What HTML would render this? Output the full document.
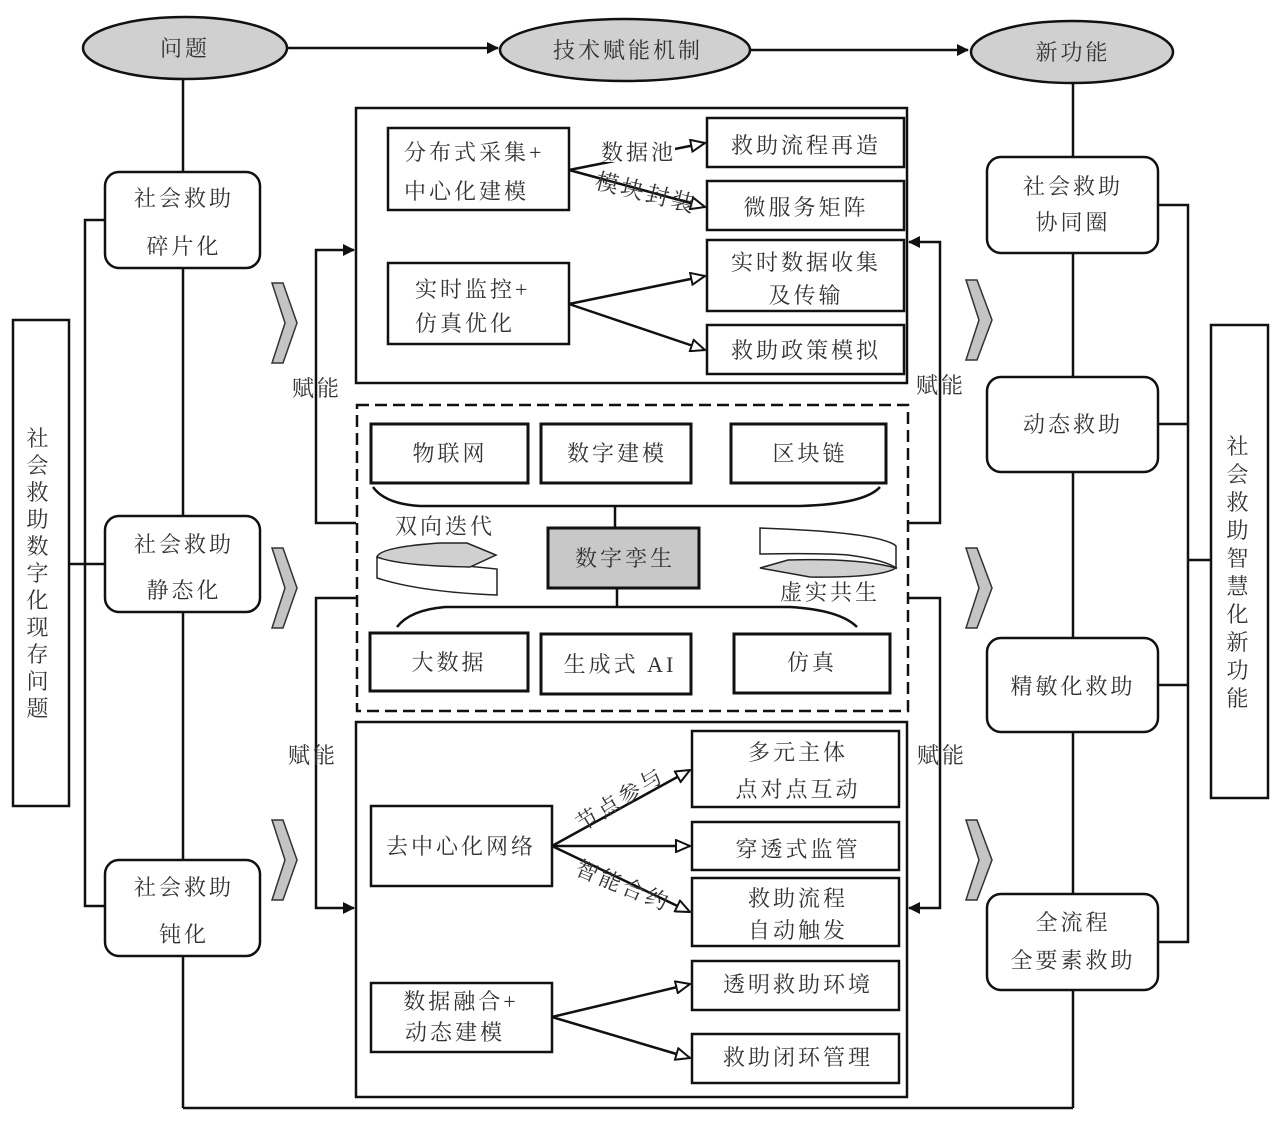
<!DOCTYPE html>
<html><head><meta charset="utf-8"><style>
html,body{margin:0;padding:0;background:#fff;}
svg text{font-family:"Liberation Serif","Noto Serif CJK SC","Noto Sans CJK SC",serif;fill:#333;font-size:22px;letter-spacing:3px;}
</style></head><body>
<svg width="1275" height="1116" viewBox="0 0 1275 1116" xmlns="http://www.w3.org/2000/svg">
<defs>
<marker id="fa" markerWidth="12" markerHeight="12" refX="11" refY="6" orient="auto" markerUnits="userSpaceOnUse"><path d="M0,0 L12,6 L0,12 z" fill="#111"/></marker>
<marker id="oa" markerWidth="16" markerHeight="14" refX="15" refY="7" orient="auto" markerUnits="userSpaceOnUse"><path d="M1,1 L15,7 L1,13 z" fill="#fff" stroke="#111" stroke-width="2"/></marker>
</defs>
<g stroke="#111" stroke-width="2.5" fill="none">
<line x1="183" y1="78" x2="183" y2="1108"/>
<line x1="183" y1="1108" x2="1073" y2="1108"/>
<line x1="1073" y1="80" x2="1073" y2="1108"/>
<line x1="287" y1="48" x2="498" y2="48" marker-end="url(#fa)"/>
<line x1="750" y1="50" x2="968" y2="50" marker-end="url(#fa)"/>
<polyline points="105,220 85,220 85,906 105,906"/>
<line x1="69" y1="564" x2="105" y2="564"/>
<polyline points="1158,205 1188,205 1188,942 1158,942"/>
<line x1="1158" y1="424" x2="1188" y2="424"/>
<line x1="1158" y1="685" x2="1188" y2="685"/>
<line x1="1188" y1="560" x2="1211" y2="560"/>
<polyline points="356,523 316,523 316,250 354,250" marker-end="url(#fa)"/>
<polyline points="356,598 316,598 316,908 354,908" marker-end="url(#fa)"/>
<polyline points="908,523 940,523 940,242 909,242" marker-end="url(#fa)"/>
<polyline points="908,598 940,598 940,908 909,908" marker-end="url(#fa)"/>
</g>
<g stroke="#111" stroke-width="2.5" fill="#d0d0d0">
<ellipse cx="185" cy="48" rx="102" ry="31"/>
<ellipse cx="625" cy="50" rx="125" ry="31"/>
<ellipse cx="1072" cy="52" rx="101" ry="31"/>
</g>
<text x="185" y="56" text-anchor="middle">问题</text>
<text x="628" y="58" text-anchor="middle">技术赋能机制</text>
<text x="1073" y="60" text-anchor="middle">新功能</text>
<g stroke="#111" stroke-width="2.5" fill="#fff">
<rect x="105" y="172" width="155" height="96" rx="14"/>
<rect x="105" y="516" width="155" height="96" rx="14"/>
<rect x="105" y="860" width="155" height="96" rx="14"/>
<rect x="13" y="320" width="56" height="486"/>
<rect x="987" y="157" width="171" height="96" rx="14"/>
<rect x="987" y="377" width="171" height="95" rx="14"/>
<rect x="987" y="638" width="171" height="94" rx="14"/>
<rect x="987" y="894" width="171" height="96" rx="14"/>
<rect x="1211" y="325" width="57" height="473"/>
</g>
<g text-anchor="middle">
<text x="184" y="206">社会救助</text><text x="184" y="254">碎片化</text>
<text x="184" y="552">社会救助</text><text x="184" y="598">静态化</text>
<text x="184" y="895">社会救助</text><text x="184" y="942">钝化</text>
<text x="1073" y="194">社会救助</text><text x="1073" y="230">协同圈</text>
<text x="1073" y="432">动态救助</text>
<text x="1073" y="694">精敏化救助</text>
<text x="1073" y="930">全流程</text><text x="1073" y="968">全要素救助</text>
</g>
<g text-anchor="middle" style="letter-spacing:0">
<text x="39" y="446">社</text><text x="39" y="473">会</text><text x="39" y="500">救</text><text x="39" y="527">助</text><text x="39" y="554">数</text><text x="39" y="581">字</text><text x="39" y="608">化</text><text x="39" y="635">现</text><text x="39" y="662">存</text><text x="39" y="689">问</text><text x="39" y="716">题</text>
<text x="1239" y="454">社</text><text x="1239" y="482">会</text><text x="1239" y="510">救</text><text x="1239" y="538">助</text><text x="1239" y="566">智</text><text x="1239" y="594">慧</text><text x="1239" y="622">化</text><text x="1239" y="650">新</text><text x="1239" y="678">功</text><text x="1239" y="706">能</text>
</g>
<g fill="#c4c4c4" stroke="#333" stroke-width="1.5">
<path d="M272,283 L283,283 L297,323 L283,363 L272,363 L285,323 z"/>
<path d="M272,548 L283,548 L297,588 L283,628 L272,628 L285,588 z"/>
<path d="M272,820 L283,820 L297,860 L283,900 L272,900 L285,860 z"/>
<path d="M966,280 L977,280 L992,320 L977,360 L966,360 L979,320 z"/>
<path d="M966,548 L977,548 L992,588 L977,628 L966,628 L979,588 z"/>
<path d="M966,820 L977,820 L992,860 L977,900 L966,900 L979,860 z"/>
</g>
<g text-anchor="middle">
<text x="317" y="396">赋能</text>
<text x="941" y="393">赋能</text>
<text x="313" y="763">赋能</text>
<text x="942" y="763">赋能</text>
</g>
<g stroke="#111" stroke-width="2.5" fill="#fff">
<rect x="356" y="108" width="551" height="275"/>
<rect x="388" y="128" width="181" height="82"/>
<rect x="388" y="263" width="181" height="81"/>
<rect x="707" y="118" width="197" height="49"/>
<rect x="707" y="181" width="197" height="49"/>
<rect x="707" y="240" width="197" height="71"/>
<rect x="707" y="325" width="197" height="49"/>
</g>
<g stroke="#111" stroke-width="2.5" fill="none">
<line x1="569" y1="170" x2="705" y2="143" marker-end="url(#oa)"/>
<line x1="569" y1="170" x2="705" y2="207" marker-end="url(#oa)"/>
<line x1="569" y1="304" x2="705" y2="276" marker-end="url(#oa)"/>
<line x1="569" y1="304" x2="705" y2="350" marker-end="url(#oa)"/>
</g>
<rect x="603" y="138" width="72" height="24" fill="#fff"/>
<text x="601" y="160">数据池</text>
<text x="594" y="188" transform="rotate(14 594 188)" style="font-size:23px">模块封装</text>
<text x="404" y="160">分布式采集+</text>
<text x="404" y="199">中心化建模</text>
<text x="415" y="297">实时监控+</text>
<text x="415" y="331">仿真优化</text>
<g text-anchor="middle">
<text x="806" y="153">救助流程再造</text>
<text x="806" y="215">微服务矩阵</text>
<text x="806" y="270">实时数据收集</text>
<text x="806" y="303">及传输</text>
<text x="806" y="358">救助政策模拟</text>
</g>
<rect x="357" y="405" width="551" height="306" fill="none" stroke="#111" stroke-width="2.5" stroke-dasharray="12,6"/>
<g stroke="#111" stroke-width="3" fill="#fff">
<rect x="371" y="424" width="157" height="59"/>
<rect x="541" y="424" width="150" height="59"/>
<rect x="731" y="424" width="155" height="59"/>
<rect x="548" y="528" width="151" height="60" fill="#c8c8c8"/>
<rect x="370" y="633" width="158" height="58"/>
<rect x="541" y="634" width="150" height="60"/>
<rect x="734" y="634" width="156" height="59"/>
</g>
<g stroke="#111" stroke-width="2.5" fill="none">
<path d="M373,487 Q385,504 420,506 L800,506 Q865,504 880,487"/>
<line x1="615" y1="506" x2="615" y2="528"/>
<line x1="617" y1="588" x2="617" y2="607"/>
<path d="M397,627 Q410,610 445,607 L790,607 Q840,610 857,627"/>
</g>
<g stroke="#222" stroke-width="1.5">
<path d="M377,557 L377,578 Q420,592 497,595 L497,569 L377,557 z" fill="#fff"/>
<path d="M377,557 Q380,547 440,543 L467,543 L496,555 L470,567 Q400,566 377,557 z" fill="#d0d0d0"/>
<path d="M760,528 L760,554 Q820,553 848,555 Q885,560 896,568 L896,546 Q880,532 760,528 z" fill="#fff"/>
<path d="M760,568 L788,560 Q860,558 896,568 Q880,578 810,577 L760,568 z" fill="#d0d0d0"/>
</g>
<text x="395" y="534">双向迭代</text>
<text x="780" y="600">虚实共生</text>
<g text-anchor="middle">
<text x="450" y="461">物联网</text>
<text x="617" y="461">数字建模</text>
<text x="810" y="461">区块链</text>
<text x="625" y="566">数字孪生</text>
<text x="449" y="670">大数据</text>
<text x="620" y="672">生成式 AI</text>
<text x="812" y="670">仿真</text>
</g>
<g stroke="#111" stroke-width="2.5" fill="#fff">
<rect x="356" y="722" width="551" height="375"/>
<rect x="371" y="806" width="181" height="80"/>
<rect x="371" y="983" width="181" height="69"/>
<rect x="692" y="731" width="207" height="76"/>
<rect x="692" y="822" width="207" height="48"/>
<rect x="692" y="878" width="207" height="68"/>
<rect x="692" y="961" width="207" height="49"/>
<rect x="692" y="1034" width="207" height="49"/>
</g>
<g stroke="#111" stroke-width="2.5" fill="none">
<line x1="552" y1="846" x2="690" y2="770" marker-end="url(#oa)"/>
<line x1="552" y1="846" x2="690" y2="846" marker-end="url(#oa)"/>
<line x1="552" y1="846" x2="690" y2="912" marker-end="url(#oa)"/>
<line x1="552" y1="1017" x2="690" y2="984" marker-end="url(#oa)"/>
<line x1="552" y1="1017" x2="690" y2="1058" marker-end="url(#oa)"/>
</g>
<text x="582" y="832" transform="rotate(-32 582 832)">节点参与</text>
<text x="574" y="874" transform="rotate(22 574 874)">智能合约</text>
<text x="461" y="854" text-anchor="middle">去中心化网络</text>
<text x="461" y="1009" text-anchor="middle">数据融合+</text>
<text x="455" y="1040" text-anchor="middle">动态建模</text>
<g text-anchor="middle">
<text x="798" y="760">多元主体</text>
<text x="798" y="797">点对点互动</text>
<text x="798" y="857">穿透式监管</text>
<text x="798" y="906">救助流程</text>
<text x="798" y="938">自动触发</text>
<text x="798" y="992">透明救助环境</text>
<text x="798" y="1065">救助闭环管理</text>
</g>
</svg>
</body></html>
